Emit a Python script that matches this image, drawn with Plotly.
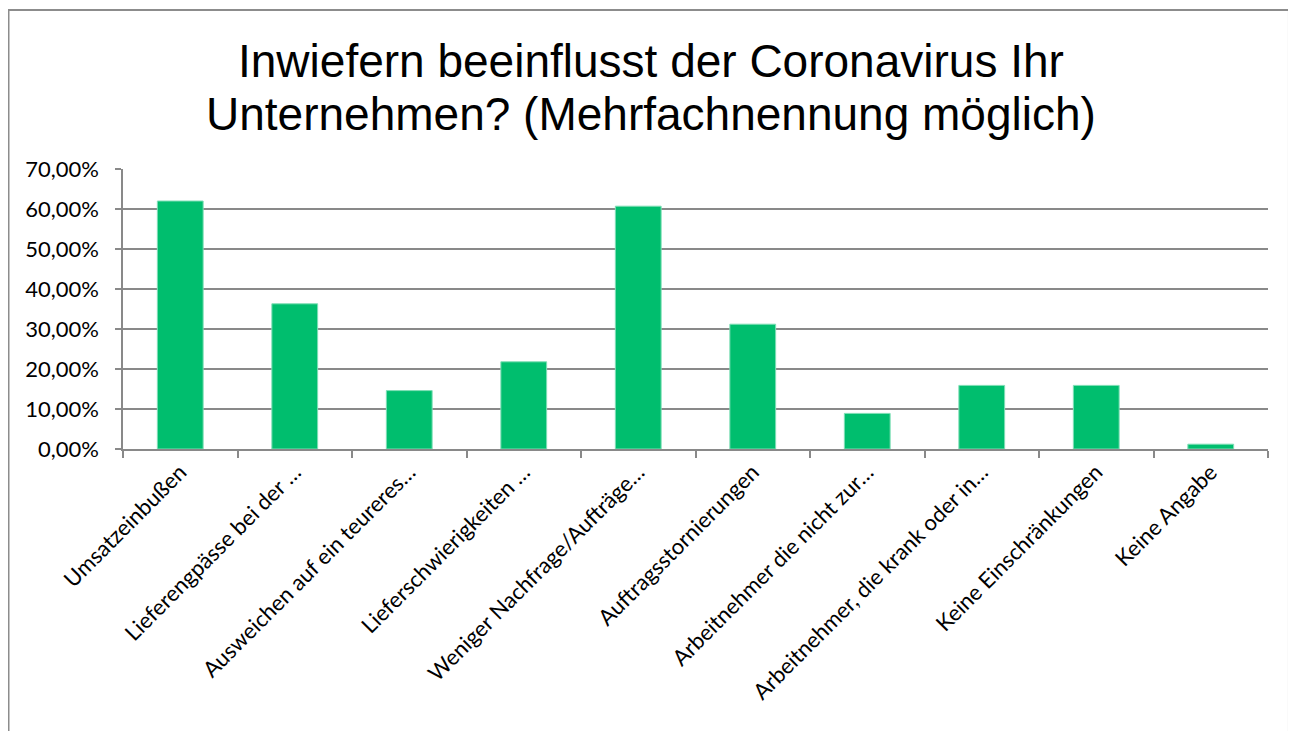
import plotly.graph_objects as go

# Kategorien (Achsenbeschriftungen wie im Original abgeschnitten)
kategorien = [
    "Umsatzeinbußen",
    "Lieferengpässe bei der …",
    "Ausweichen auf ein teureres…",
    "Lieferschwierigkeiten …",
    "Weniger Nachfrage/Aufträge…",
    "Auftragsstornierungen",
    "Arbeitnehmer die nicht zur…",
    "Arbeitnehmer, die krank oder in…",
    "Keine Einschränkungen",
    "Keine Angabe",
]
# Anteile in Prozent
anteile = [62.0, 36.3, 14.6, 21.8, 60.7, 31.2, 8.9, 15.9, 15.9, 1.2]

titel_zeilen = ["Inwiefern beeinflusst der Coronavirus Ihr",
                "Unternehmen? (Mehrfachnennung möglich)"]

grau = "#898989"

fig = go.Figure(go.Bar(x=kategorien, y=anteile, width=0.4,
                       marker=dict(color="#00BE6E", line=dict(color="#7FDEB6", width=1))))

# die Seite hat 8px Rand, daher etwas kleiner
fig.update_layout(
    width=1288, height=723,
    margin=dict(l=115, r=28, t=161, b=282),
    plot_bgcolor="white", paper_bgcolor="white",
    separators=",.",
    showlegend=False,
    font=dict(family="Lato", size=22, color="black"),
)

# Titel als zwei Zeilen, damit der Zeilenabstand passt (zentriert auf die ganze Seite)
for zeile, ypos in zip(titel_zeilen, [1.385, 1.197]):
    fig.add_annotation(text=zeile, xref="paper", yref="paper", x=0.461, y=ypos,
                       xanchor="center", yanchor="middle", showarrow=False,
                       font=dict(family="Liberation Sans", size=46, color="black"))

fig.update_yaxes(range=[0, 70], dtick=10, tickformat=".2f", ticksuffix="%",
                 showgrid=True, gridcolor=grau, gridwidth=1.5,
                 showline=True, linecolor=grau, linewidth=1.5,
                 ticks="outside", ticklen=6, tickcolor=grau, tickwidth=1.5,
                 ticklabelstandoff=12, zeroline=False,
                 tickfont=dict(family="Lato", size=22))
fig.update_xaxes(tickangle=-45, tickson="boundaries",
                 showline=True, linecolor=grau, linewidth=1.5,
                 ticks="outside", ticklen=7, tickcolor=grau, tickwidth=1.5,
                 tickfont=dict(family="Lato", size=22))

# Rahmen um das Diagramm
fig.add_shape(type="rect", xref="paper", yref="paper",
              x0=-0.1, x1=1.0183, y0=-1.05, y1=1.568,
              line=dict(color="#8c8c8c", width=2), fillcolor="rgba(0,0,0,0)")

fig.write_html("out.html")
